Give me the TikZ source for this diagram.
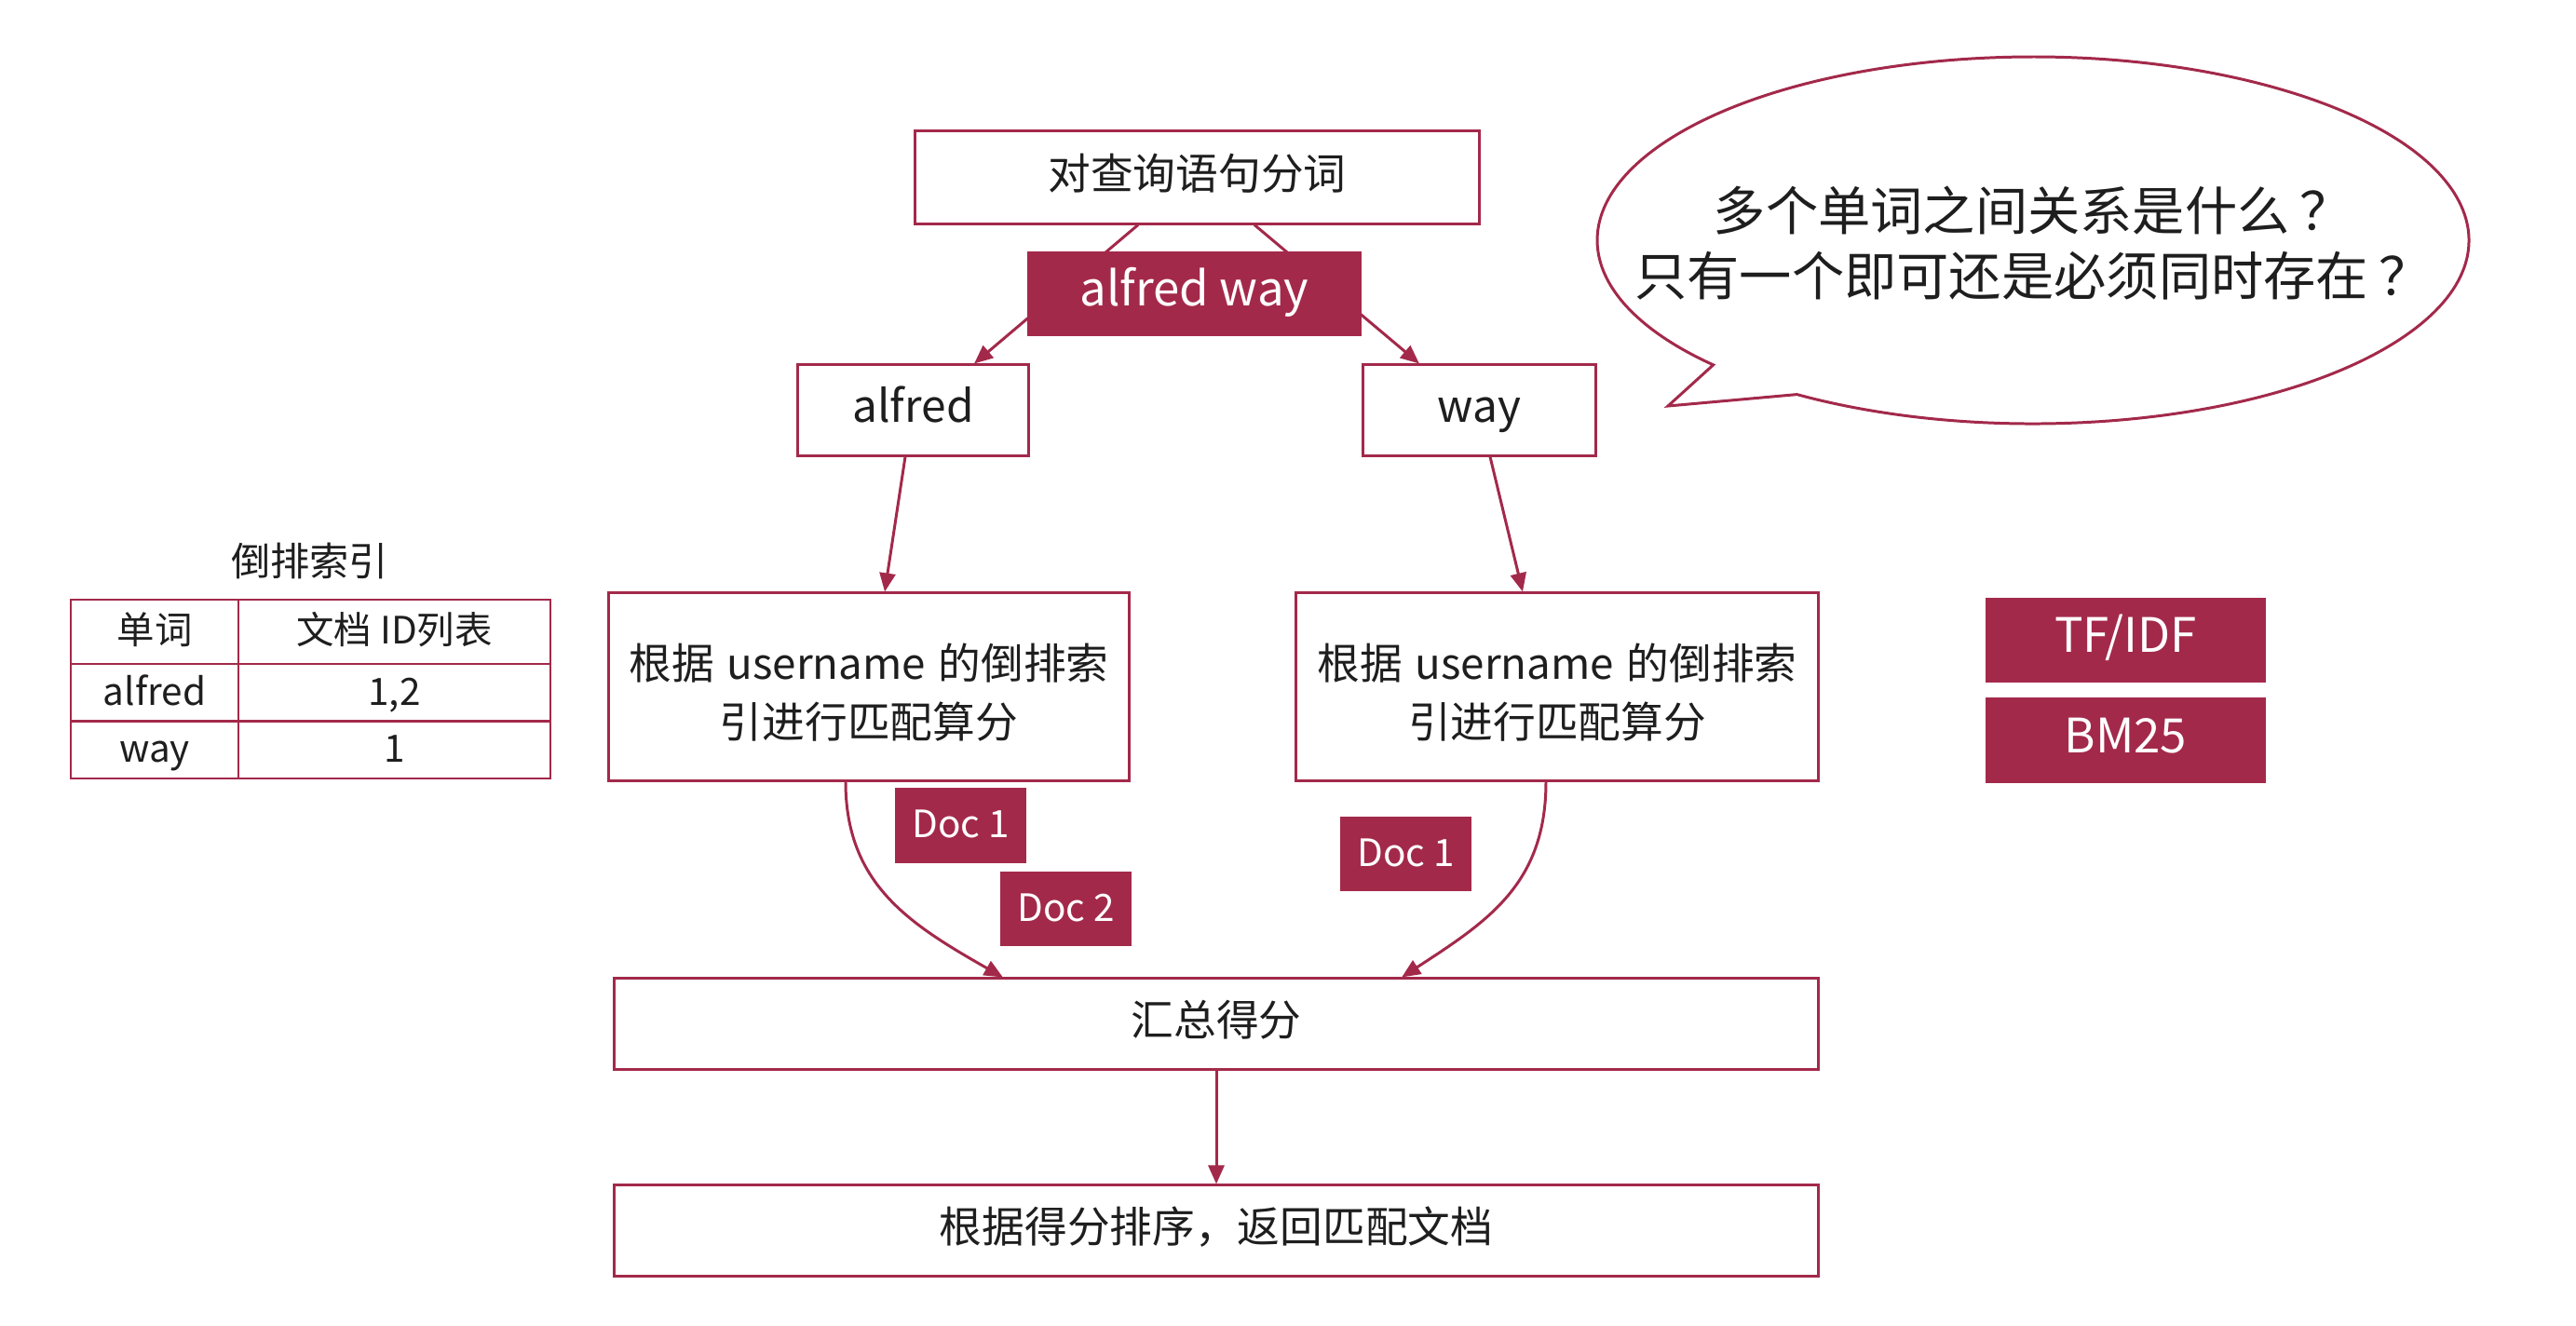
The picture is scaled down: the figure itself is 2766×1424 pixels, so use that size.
\documentclass[tikz,border=0pt]{standalone}
\usepackage{fontspec}
\setmainfont{Noto Sans CJK SC}
\usetikzlibrary{arrows.meta}
\definecolor{crim}{HTML}{A3294A}
\definecolor{txt}{HTML}{1E1E1E}
\tikzset{
  box/.style={draw=crim, line width=0.85pt, fill=white, text=txt, inner sep=0pt, align=center},
  tag/.style={fill=crim, text=white, inner sep=0pt, align=center},
  line1/.style={text height=0.88em, text depth=0.12em},
  arr/.style={draw=crim, line width=0.85pt, -{Triangle[length=0.2cm,width=0.17cm]}},
  cell/.style={draw=crim, line width=0.7pt, inner sep=0pt, text=txt, line1, font=\fontsize{11.5}{13}\selectfont},
  mid/.style={font=\fontsize{13}{18}\selectfont},
  doc/.style={tag, line1, minimum width=1.41cm, minimum height=0.80cm, font=\fontsize{11.5}{13}\selectfont},
  algo/.style={tag, line1, minimum width=3.01cm, minimum height=0.91cm, font=\fontsize{14.5}{16}\selectfont},
}
\newcommand{\wsp}{\hspace{0.3em}}
\newcommand{\lowerstrut}{\rule{0pt}{1.1em}}
\begin{document}
\begin{tikzpicture}[x=0.01cm, y=-0.01cm]
\useasboundingbox (0,0) rectangle (2766,1424);
\fill[white] (0,0) rectangle (2766,1424);

% main flow
\node[box, mid, line1, minimum width=6.05cm, minimum height=0.99cm] (q) at (1285.5,190.5) {对查询语句分词};
\node[box, line1, font=\fontsize{13.6}{16}\selectfont, minimum width=2.47cm, minimum height=0.97cm] (alfred) at (980.5,440.5) {alfred};
\node[box, line1, font=\fontsize{13.6}{16}\selectfont, minimum width=2.49cm, minimum height=0.97cm] (way) at (1588.5,440.5) {way};
\node[box, mid, minimum width=5.58cm, minimum height=2.01cm] (L) at (933,737.5) {\lowerstrut 根据\wsp username\wsp 的倒排索\\引进行匹配算分};
\node[box, mid, minimum width=5.60cm, minimum height=2.01cm] (R) at (1672,737.5) {\lowerstrut 根据\wsp username\wsp 的倒排索\\引进行匹配算分};
\node[box, mid, line1, minimum width=12.92cm, minimum height=0.97cm] (sum) at (1306,1099.5) {汇总得分};
\node[box, mid, line1, minimum width=12.92cm, minimum height=0.97cm] (final) at (1306,1321.5) {根据得分排序，返回匹配文档};

\node[doc] (d1) at (1031.5,886.5) {Doc 1};
\node[doc] (d2) at (1144.5,976) {Doc 2};
\node[doc] (d3) at (1509.5,917) {Doc 1};

\node[algo] (tf) at (2282.5,687.5) {TF/IDF};
\node[algo, minimum height=0.92cm] (bm) at (2282.5,795) {BM25};

% connectors
\draw[arr] ([xshift=-0.635cm]q.south) -- ([xshift=0.655cm]alfred.north);
\draw[arr] ([xshift=0.615cm]q.south) -- ([xshift=-0.645cm]way.north);
\node[tag, line1, font=\fontsize{14.5}{16}\selectfont, minimum width=3.59cm, minimum height=0.91cm] (aw) at (1282.5,315.5) {alfred way};
\draw[arr] ([xshift=-0.085cm]alfred.south) -- ([xshift=0.17cm]L.north);
\draw[arr] ([xshift=0.115cm]way.south) -- ([xshift=-0.37cm]R.north);
\draw[arr] ([xshift=-0.25cm]L.south) .. controls +(0,110) and +(-100,-57) .. ([xshift=-2.29cm]sum.north);
\draw[arr] ([xshift=-0.12cm]R.south) .. controls +(0,110) and +(92,-60) .. ([xshift=1.99cm]sum.north);
\draw[arr] (sum.south) -- (final.north);

% speech bubble
\coordinate (tip) at (1791,436);
\draw[draw=crim, line width=0.85pt, fill=white] (1929.5,423.6)
  arc[start angle=122.8, end angle=-222.8, x radius=468, y radius=197] -- (tip) -- cycle;
\node[font=\fontsize{16}{20}\selectfont, text=txt, align=center] (bq) at (2183,261)
  {多个单词之间关系是什么\hspace{0.2em}？\\只有一个即可还是必须同时存在\hspace{0.2em}？};

% inverted index table
\node[font=\fontsize{12}{14}\selectfont, text=txt] (tt) at (332.5,602) {倒排索引};
\node[cell, minimum width=1.80cm, minimum height=0.69cm] (c11) at (166,678.5) {单词};
\node[cell, minimum width=3.35cm, minimum height=0.69cm] (c12) at (423.5,678.5) {文档 ID列表};
\node[cell, minimum width=1.80cm, minimum height=0.615cm] (c21) at (166,743.75) {alfred};
\node[cell, minimum width=3.35cm, minimum height=0.615cm] (c22) at (423.5,743.75) {1,2};
\node[cell, minimum width=1.80cm, minimum height=0.615cm] (c31) at (166,805.25) {way};
\node[cell, minimum width=3.35cm, minimum height=0.615cm] (c32) at (423.5,805.25) {1};
\end{tikzpicture}
\end{document}
